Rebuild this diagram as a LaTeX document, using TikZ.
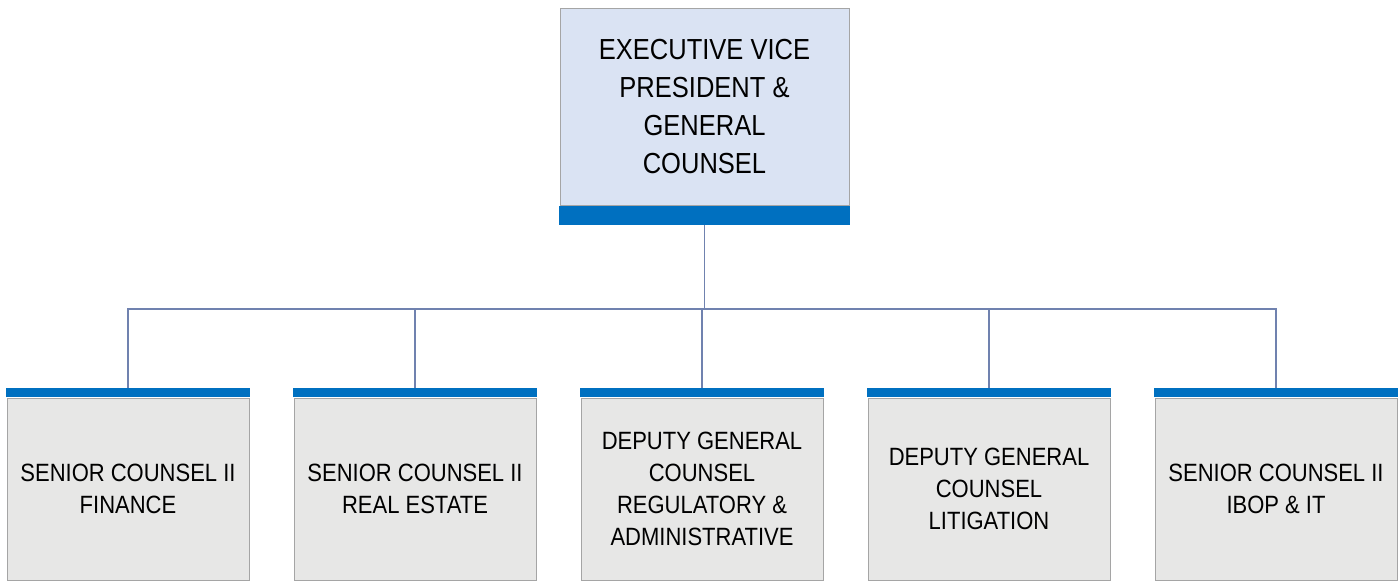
\documentclass[tikz,border=0pt]{standalone}
\usepackage{fontspec}
\usepackage{tikz}
\usepackage{xcolor}
\usetikzlibrary{positioning}
\newfontfamily\chartfont{Liberation Sans}[FakeStretch=0.88]
\definecolor{barblue}{RGB}{0,112,192}
\definecolor{headfill}{RGB}{218,227,243}
\definecolor{stafffill}{RGB}{231,231,230}
\definecolor{boxline}{RGB}{165,165,165}
\definecolor{linkblue}{RGB}{112,130,175}
\tikzset{
    top-box/.style = {draw=boxline, fill=headfill, line width=1pt, rectangle, minimum width=289pt, minimum height=197pt, inner sep=0pt, align=center, font=\chartfont\fontsize{29}{38}\selectfont},
    top-bar/.style = {fill=barblue, rectangle, minimum width=291pt, minimum height=19pt, inner sep=0pt},
    staff-box/.style = {draw=boxline, fill=stafffill, line width=1pt, rectangle, minimum width=242pt, minimum height=182pt, inner sep=0pt, align=center, font=\chartfont\fontsize{25}{32}\selectfont},
    staff-bar/.style = {fill=barblue, rectangle, minimum width=244pt, minimum height=9.5pt, inner sep=0pt},
    link/.style = {draw=linkblue, line width=1.5pt},
}

\begin{document}
\begin{tikzpicture}[x=1pt, y=-1pt]
\useasboundingbox (0,0) rectangle (1399,582);
\node [top-box] (evp) at (704.5,106.5) {EXECUTIVE VICE\\PRESIDENT \&\\GENERAL\\COUNSEL};
\node [top-bar, below=0pt of evp] (evp-bar) {};

\node [staff-box] (finance) at (128,489) {SENIOR COUNSEL II\\FINANCE};
\node [staff-box, right=44pt of finance] (realestate) {SENIOR COUNSEL II\\REAL ESTATE};
\node [staff-box, right=44pt of realestate] (regulatory) {DEPUTY GENERAL\\COUNSEL\\REGULATORY \&\\ADMINISTRATIVE};
\node [staff-box, right=44pt of regulatory] (litigation) {DEPUTY GENERAL\\COUNSEL\\LITIGATION};
\node [staff-box, right=44pt of litigation] (ibop) {SENIOR COUNSEL II\\IBOP \& IT};

\foreach \n in {finance, realestate, regulatory, litigation, ibop}
    \node [staff-bar, above=0pt of \n] (\n-bar) {};

% reporting lines
\coordinate (split) at ([yshift=-84pt]evp-bar.south);
\draw [link] (evp-bar.south) -- (split);
\foreach \n in {finance, realestate, regulatory, litigation, ibop}
    \draw [link] (split) -| (\n-bar.north);
\end{tikzpicture}
\end{document}
